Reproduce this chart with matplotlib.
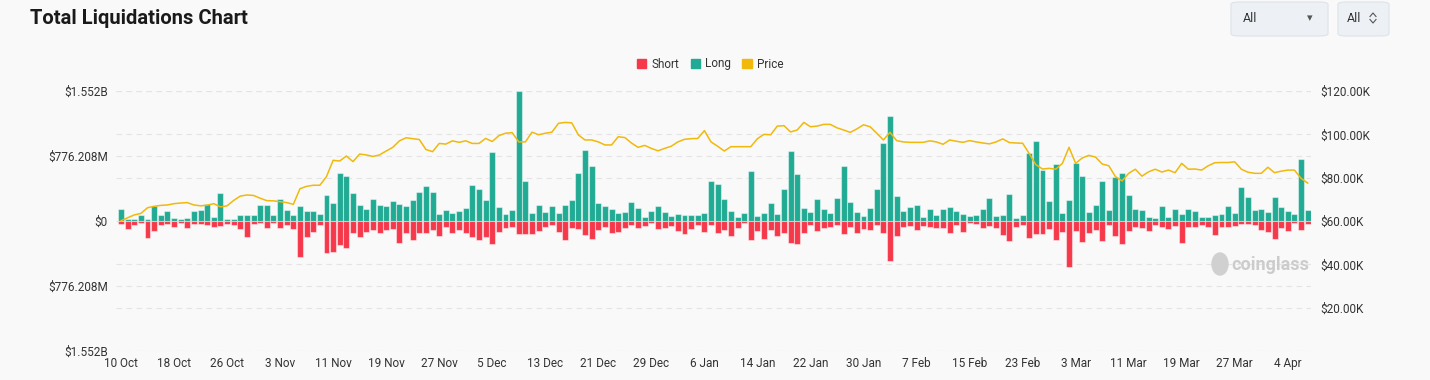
import matplotlib.pyplot as plt
import matplotlib.transforms as mtransforms
from matplotlib.patches import Patch, FancyBboxPatch, Ellipse
from matplotlib.lines import Line2D
import pandas as pd

# daily liquidations, millions USD, 10 Oct 2024 .. 7 Apr 2025
long_liq = [148, 20, 20, 68, 28, 180, 68, 120, 40, 20,
            36, 120, 128, 200, 44, 340, 28, 20, 68, 68,
            68, 192, 188, 68, 260, 132, 68, 180, 116, 116,
            88, 312, 220, 572, 540, 340, 188, 140, 260, 196,
            176, 240, 208, 180, 256, 348, 412, 352, 80, 128,
            92, 116, 152, 432, 388, 252, 820, 164, 84, 128,
            1552, 480, 92, 188, 112, 176, 100, 196, 248, 572,
            848, 652, 220, 180, 148, 100, 108, 232, 160, 44,
            116, 180, 104, 60, 80, 68, 68, 76, 92, 480,
            440, 260, 120, 48, 100, 592, 60, 100, 212, 88,
            380, 836, 556, 160, 112, 268, 144, 92, 276, 660,
            232, 104, 56, 160, 388, 928, 1252, 300, 116, 172,
            196, 44, 140, 68, 148, 164, 116, 84, 64, 72,
            144, 280, 56, 72, 328, 40, 72, 816, 952, 612,
            236, 676, 100, 256, 692, 540, 108, 188, 480, 132,
            524, 568, 316, 148, 136, 44, 32, 176, 52, 148,
            80, 140, 120, 52, 52, 68, 88, 180, 100, 400,
            292, 136, 140, 108, 292, 172, 120, 80, 740, 128]
short_liq = [40, 100, 52, 28, 208, 120, 52, 32, 68, 28,
             80, 32, 32, 52, 68, 60, 32, 44, 100, 188,
             40, 20, 80, 28, 88, 48, 100, 428, 188, 132,
             52, 380, 372, 288, 320, 148, 188, 132, 112, 140,
             108, 100, 260, 148, 228, 140, 140, 112, 180, 76,
             148, 112, 140, 192, 228, 192, 280, 132, 84, 72,
             160, 160, 160, 124, 76, 52, 128, 228, 88, 92,
             168, 220, 112, 72, 140, 132, 84, 48, 80, 56,
             28, 92, 80, 64, 124, 152, 100, 48, 132, 52,
             140, 108, 180, 80, 28, 228, 124, 220, 112, 180,
             148, 260, 272, 140, 48, 120, 80, 68, 48, 160,
             72, 140, 100, 112, 48, 148, 472, 180, 68, 60,
             108, 60, 72, 88, 84, 148, 52, 128, 28, 32,
             88, 60, 80, 168, 244, 68, 48, 200, 150, 152,
             92, 224, 128, 548, 120, 252, 144, 112, 240, 44,
             180, 276, 120, 72, 80, 120, 48, 72, 100, 60,
             260, 68, 68, 48, 68, 172, 72, 72, 60, 40,
             40, 48, 108, 132, 220, 80, 124, 28, 108, 40]
# BTC price, thousands USD
price = [60.1, 61.5, 62.8, 63.5, 66.1, 66.8, 67.2, 67.4, 68.0, 68.3,
         68.5, 67.4, 67.0, 67.3, 68.0, 66.5, 67.0, 69.5, 71.5, 72.0,
         71.8, 70.5, 69.4, 69.3, 68.9, 68.5, 67.7, 74.9, 76.0, 76.5,
         76.5, 80.5, 88.0, 87.7, 90.0, 87.4, 90.9, 90.5, 89.8, 90.5,
         92.3, 94.0, 97.0, 98.4, 98.0, 97.6, 93.0, 92.0, 95.8, 95.5,
         97.0, 96.3, 97.0, 95.8, 95.8, 98.1, 96.7, 99.4, 100.5, 100.8,
         96.5, 96.5, 101.0, 99.8, 100.5, 101.0, 105.1, 105.5, 105.3, 99.7,
         97.4, 97.4, 96.5, 95.1, 95.1, 98.9, 98.5, 96.0, 94.0, 94.9,
         93.5, 92.4, 93.5, 94.5, 96.5, 97.7, 98.0, 98.1, 101.7, 96.5,
         94.5, 92.3, 94.3, 94.3, 94.3, 94.3, 98.0, 100.0, 99.8, 103.8,
         104.0, 101.1, 102.0, 105.5, 103.5, 103.8, 104.6, 104.6, 103.0, 102.0,
         100.9, 102.5, 104.4, 103.5, 100.5, 97.4, 100.9, 97.1, 96.5, 96.3,
         96.3, 96.3, 97.0, 96.5, 95.4, 97.4, 96.8, 96.3, 97.1, 96.5,
         96.0, 95.6, 96.5, 97.9, 96.2, 96.0, 95.9, 91.1, 86.0, 84.0,
         84.3, 83.9, 86.6, 94.0, 86.6, 89.1, 90.3, 89.5, 86.3, 85.5,
         80.5, 78.5, 82.0, 83.9, 80.7, 82.7, 83.9, 82.6, 83.5, 82.3,
         86.6, 83.9, 84.0, 83.5, 85.5, 86.9, 87.0, 87.0, 87.3, 83.9,
         82.5, 82.0, 82.0, 84.8, 82.3, 83.0, 83.5, 83.5, 79.7, 77.5]
dates = pd.date_range('2024-10-10', periods=len(price), freq='D')

left_ticks = [-1552, -776.208, 0, 776.208, 1552]
left_labels = ['$1.552B', '$776.208M', '$0', '$776.208M', '$1.552B']
right_ticks = [20, 40, 60, 80, 100, 120]
right_labels = ['$20.00K', '$40.00K', '$60.00K', '$80.00K', '$100.00K', '$120.00K']

RED = '#f5394b'
TEAL = '#22ab94'
GOLD = '#f0b90b'
BG = '#f9f9f9'
GRID = '#e4e4e4'

plt.rcParams['font.family'] = ['Roboto', 'DejaVu Sans']

fig = plt.figure(figsize=(14.3, 3.8), dpi=100, facecolor=BG)
ax = fig.add_axes([116 / 1430, 1 - 351 / 380, 1195 / 1430, 260 / 380])
ax.set_facecolor(BG)
ax2 = ax.twinx()

ax.bar(dates, long_liq, width=0.9, color=TEAL, edgecolor=(1, 1, 1, 0.45), linewidth=0.8, zorder=2)
ax.bar(dates, [-s for s in short_liq], width=0.9, color=RED, edgecolor=(1, 1, 1, 0.45), linewidth=0.8, zorder=2)
ax2.plot(dates, price, color=GOLD, linewidth=1.1, solid_joinstyle='round')

ax.set_ylim(-1552, 1552)
ax2.set_ylim(0, 120)
ax.set_xlim(dates[0] - pd.Timedelta(hours=18), dates[-1] + pd.Timedelta(hours=12))

ax.set_yticks(left_ticks)
ax.set_yticklabels(left_labels)
ax2.set_yticks(right_ticks)
ax2.set_yticklabels(right_labels)
xt = dates[::8]
ax.set_xticks(xt)
ax.set_xticklabels([f"{d.day} {d:%b}" for d in xt])

# grid lines for both axes, kept behind the bars
ax.yaxis.grid(True, color=GRID, linestyle=(0, (5, 4)), linewidth=0.8, zorder=0)
ax.set_axisbelow(True)
tr = mtransforms.blended_transform_factory(ax.transAxes, ax2.transData)
for t in right_ticks:
    ax.plot([0, 1], [t, t], transform=tr, color=GRID, linestyle=(0, (5, 4)), linewidth=0.8, zorder=0)

for a in (ax, ax2):
    for s in a.spines.values():
        s.set_visible(False)
    a.tick_params(length=0, labelsize=8.5, colors='#333333')
ax.tick_params(axis='y', pad=6)
ax2.tick_params(axis='y', pad=7)
ax.tick_params(axis='x', pad=4)

fig.text(30 / 1430, 1 - 18 / 380, 'Total Liquidations Chart', fontsize=14.5, fontweight='bold',
         color='#1a1a1a', va='center', ha='left')

handles = [Patch(color=RED, label='Short'), Patch(color=TEAL, label='Long'), Patch(color=GOLD, label='Price')]
fig.legend(handles=handles, loc='center', bbox_to_anchor=(710 / 1430, 1 - 64 / 380), ncol=3,
           frameon=False, fontsize=8.5, handlelength=0.8, handleheight=0.9, handletextpad=0.4,
           columnspacing=1.0, labelcolor='#333333')

# dropdown widgets top right
for x0, w in [(1231, 97), (1338, 51)]:
    box = FancyBboxPatch((x0 / 1430, 1 - 36 / 380), w / 1430, 34 / 380,
                         boxstyle='round,pad=0,rounding_size=0.006', transform=fig.transFigure,
                         facecolor='#edf1f5', edgecolor='#dde3e8', linewidth=0.8)
    fig.add_artist(box)
fig.text(1243 / 1430, 1 - 18 / 380, 'All', fontsize=9, color='#333333', va='center')
fig.text(1310 / 1430, 1 - 18 / 380, '\u25be', fontsize=8, color='#555555', va='center', ha='center')
fig.text(1347 / 1430, 1 - 18 / 380, 'All', fontsize=9, color='#333333', va='center')
for dy in (1, -1):
    cy = 1 - (18 - dy * 3.5) / 380
    fig.add_artist(Line2D([1370 / 1430, 1373 / 1430, 1376 / 1430],
                          [cy - dy * 2 / 380, cy + dy * 1.5 / 380, cy - dy * 2 / 380],
                          transform=fig.transFigure, color='#555555', linewidth=0.8))

# watermark
fig.add_artist(Ellipse((1220 / 1430, 1 - 264 / 380), 16 / 1430, 22 / 380,
                       transform=fig.transFigure, color='#d0d0d0'))
fig.text(1231 / 1430, 1 - 265 / 380, 'coinglass', fontsize=13, fontweight='bold',
         color='#cccccc', va='center', ha='left')

fig.savefig('out.png', dpi=100, facecolor=BG)
